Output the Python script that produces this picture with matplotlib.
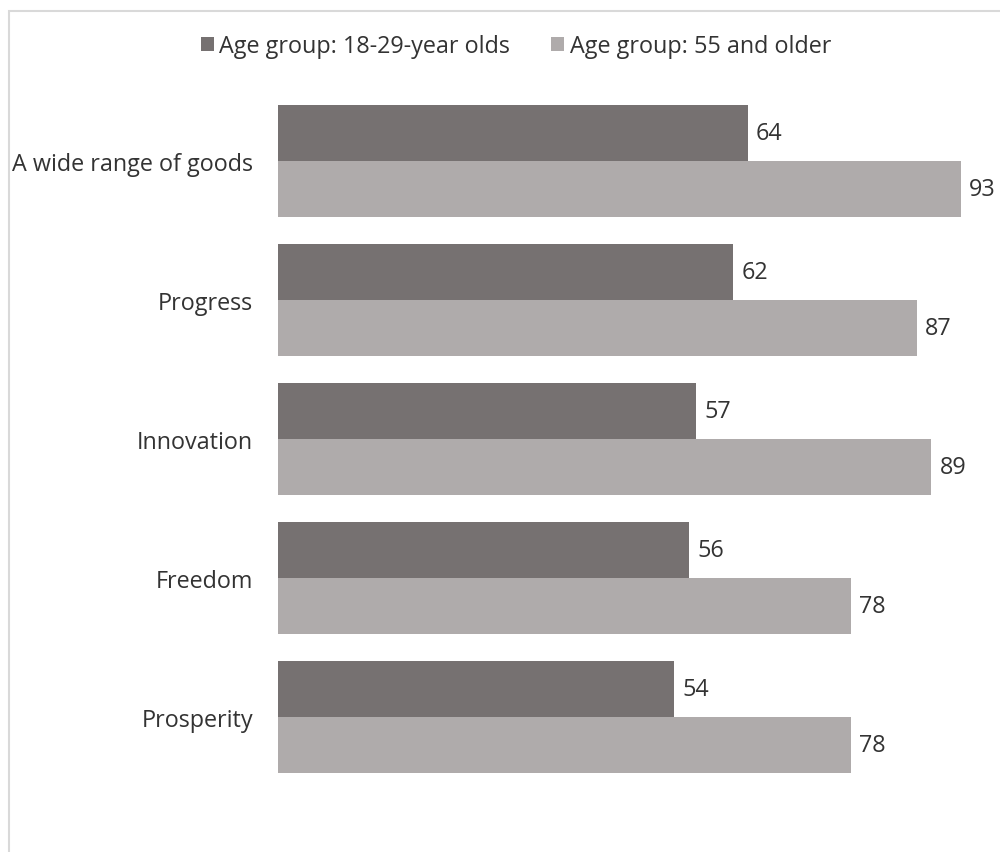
import numpy as np
import matplotlib.pyplot as plt
from matplotlib.patches import Rectangle

categories = ['A wide range of goods', 'Progress', 'Innovation', 'Freedom', 'Prosperity']
young = [64, 62, 57, 56, 54]
older = [93, 87, 89, 78, 78]
series_names = ['Age group: 18-29-year olds', 'Age group: 55 and older']

dark = '#767171'
light = '#AFABAB'
txt = '#333333'
fs = 16.8

plt.rcParams['font.family'] = ['Open Sans', 'DejaVu Sans']

fig = plt.figure(figsize=(10, 8.53), dpi=100)
W, H = 1000, 853

# light frame of the chart area (cut off at right and bottom)
fig.patches.append(Rectangle((9 / W, -0.1), 1.2, 1 - 12 / H + 0.1, transform=fig.transFigure,
                             facecolor='white', edgecolor='#d9d9d9', linewidth=1.5, zorder=-1))

top_px, bot_px = 60, 800
ax = fig.add_axes([278 / W, 1 - bot_px / H, 734 / W, (bot_px - top_px) / H])
ax.set_facecolor('none')

unit = 139.0
y = np.arange(len(categories))
h = 0.4
ax.barh(y - h / 2, young, height=h, color=dark, label=series_names[0])
ax.barh(y + h / 2, older, height=h, color=light, label=series_names[1])

for i in range(len(categories)):
    ax.annotate(str(young[i]), (young[i], y[i] - h / 2), xytext=(6, 0), textcoords='offset points',
                va='center', ha='left', fontsize=fs, color=txt)
    ax.annotate(str(older[i]), (older[i], y[i] + h / 2), xytext=(6, 0), textcoords='offset points',
                va='center', ha='left', fontsize=fs, color=txt)

ax.set_xlim(0, 100)
ax.set_ylim((bot_px - 162) / unit, (top_px - 162) / unit)
ax.set_yticks(y)
ax.set_yticklabels(categories, fontsize=fs, color=txt)
ax.tick_params(axis='y', length=0, pad=18)
ax.set_xticks([])
for s in ax.spines.values():
    s.set_visible(False)

fig.legend(loc='center', bbox_to_anchor=(516 / W, 1 - 47 / H), ncol=2, frameon=False,
           fontsize=fs, handlelength=0.55, handleheight=0.55, handletextpad=0.25, columnspacing=1.75,
           labelcolor=txt)

fig.savefig('out.png', dpi=100)
